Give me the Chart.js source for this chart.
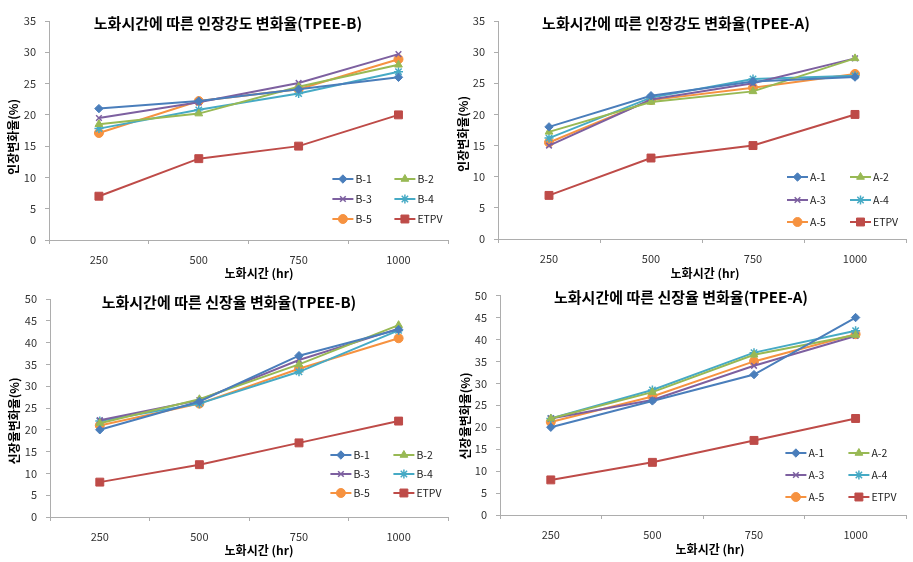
<!DOCTYPE html>
<html>
<head>
<meta charset="utf-8">
<script src="https://cdn.jsdelivr.net/npm/chart.js@4/dist/chart.umd.min.js"></script>
<style>
    body { margin: 0; background: #fff; }
    #wrap { position: relative; width: 913px; height: 562px; overflow: hidden; }
    canvas { position: absolute; }
</style>
</head>
<body>
<div id="wrap">
    <canvas id="c1" width="455" height="280" style="left:0;top:0"></canvas>
    <canvas id="c2" width="458" height="280" style="left:455px;top:0"></canvas>
    <canvas id="c3" width="455" height="282" style="left:0;top:280px"></canvas>
    <canvas id="c4" width="458" height="282" style="left:455px;top:280px"></canvas>
</div>
<script>
// 노화시간 (hr)
const hours = ["250", "500", "750", "1000"];

// 인장강도 변화율 (TPEE-B)
const tensileB1 = [21, 22.2, 24.1, 26];
const tensileB2 = [18.5, 20.2, 24.5, 28];
const tensileB3 = [19.5, 22, 25.1, 29.7];
const tensileB4 = [17.8, 20.8, 23.4, 26.9];
const tensileB5 = [17.1, 22.2, 24.1, 28.9];

// 인장강도 변화율 (TPEE-A)
const tensileA1 = [18, 23, 25.3, 26];
const tensileA2 = [17.2, 22, 23.7, 29];
const tensileA3 = [15, 22.4, 25, 29];
const tensileA4 = [16.2, 22.7, 25.7, 26.2];
const tensileA5 = [15.5, 22.3, 24.3, 26.5];

const tensileETPV = [7, 13, 15, 20];

// 신장율 변화율 (TPEE-B)
const elongB1 = [20, 26.5, 37, 43];
const elongB2 = [21.5, 27, 35, 44];
const elongB3 = [22.2, 26.8, 36, 43.2];
const elongB4 = [22, 26, 33.3, 42.8];
const elongB5 = [21, 26, 34, 41];

// 신장율 변화율 (TPEE-A)
const elongA1 = [20, 26, 32, 45];
const elongA2 = [22, 28, 36.5, 41];
const elongA3 = [22, 26.2, 34, 40.8];
const elongA4 = [22, 28.5, 37, 42];
const elongA5 = [21.2, 27, 35, 41.2];

const elongETPV = [8, 12, 17, 22];

const tensileTicks = { max: 35, step: 5 };
const elongTicks = { max: 50, step: 5 };

const FONT = "'Noto Sans CJK KR', 'Noto Sans', sans-serif";

const seriesStyle = [
    { color: "#4A7EBB", point: "rectRot", radius: 4.2 },
    { color: "#98B954", point: "triangle", radius: 4.5 },
    { color: "#7D60A0", point: "crossRot", radius: 4 },
    { color: "#46AAC5", point: "star", radius: 4.5 },
    { color: "#F69240", point: "circle", radius: 4.5 },
    { color: "#BE4B48", point: "rect", radius: 5.6 }
];

function makeDatasets(labels, values) {
    return values.map((v, i) => {
        const s = seriesStyle[i];
        return {
            label: labels[i],
            data: v,
            borderColor: s.color,
            backgroundColor: s.color,
            borderWidth: 2,
            pointStyle: s.point,
            pointRadius: s.radius,
            pointBackgroundColor: s.color,
            pointBorderColor: s.color,
            pointBorderWidth: (s.point === "crossRot" || s.point === "star") ? 1.5 : 1,
            tension: 0
        };
    });
}

// titles, axis titles and legend drawn on the canvas
const panelDeco = {
    id: "panelDeco",
    afterDraw(chart, args, o) {
        const ctx = chart.ctx;
        ctx.save();
        ctx.fillStyle = "#000";
        ctx.textAlign = "center";
        ctx.textBaseline = "middle";

        ctx.font = "bold 15px " + FONT;
        ctx.fillText(o.title, o.titleX, o.titleY);

        ctx.font = "bold 12px " + FONT;
        ctx.fillText("노화시간 (hr)", o.xTitleX, o.xTitleY);

        ctx.save();
        ctx.translate(o.yTitleX, o.yTitleY);
        ctx.rotate(-Math.PI / 2);
        ctx.fillText(o.yTitle, 0, 0);
        ctx.restore();

        // legend: 2 columns x 3 rows
        const area = chart.chartArea;
        ctx.font = "10.5px " + FONT;
        ctx.textAlign = "left";
        chart.data.datasets.forEach((ds, i) => {
            const x = area.right + o.legendCols[i % 2];
            const y = area.bottom + o.legendRows[Math.floor(i / 2)];
            ctx.strokeStyle = ds.borderColor;
            ctx.lineWidth = 2;
            ctx.beginPath();
            ctx.moveTo(x, y);
            ctx.lineTo(x + 21, y);
            ctx.stroke();
            ctx.fillStyle = ds.pointBackgroundColor;
            ctx.lineWidth = ds.pointBorderWidth;
            Chart.helpers.drawPoint(ctx, {
                pointStyle: ds.pointStyle,
                radius: ds.pointRadius,
                rotation: 0,
                borderWidth: ds.pointBorderWidth
            }, x + 10.5, y);
            ctx.fillStyle = "#222";
            ctx.fillText(ds.label, x + 23, y + 0.5);
        });
        ctx.restore();
    }
};

function makeChart(id, p) {
    const canvas = document.getElementById(id);
    return new Chart(canvas, {
        type: "line",
        data: {
            labels: hours,
            datasets: makeDatasets(p.names, p.values)
        },
        plugins: [panelDeco],
        options: {
            responsive: false,
            animation: false,
            layout: { padding: { top: p.top, right: canvas.width - p.right, left: 0, bottom: 0 } },
            scales: {
                x: {
                    offset: true,
                    afterFit: s => { s.height = canvas.height - p.bottom; },
                    border: { color: "#ADADAD", width: 1 },
                    grid: { offset: true, drawOnChartArea: false, drawTicks: true, tickLength: 4, color: "#ADADAD" },
                    ticks: { padding: 9, color: "#333", font: { family: FONT, size: 11 }, maxRotation: 0 }
                },
                y: {
                    min: 0,
                    max: p.ticks.max,
                    afterFit: s => { s.width = p.left; },
                    border: { color: "#ADADAD", width: 1 },
                    grid: { drawOnChartArea: false, drawTicks: true, tickLength: 4, color: "#ADADAD" },
                    ticks: { stepSize: p.ticks.step, padding: 9, color: "#333", font: { family: FONT, size: 11 } }
                }
            },
            plugins: {
                legend: { display: false },
                title: { display: false },
                tooltip: { enabled: false },
                panelDeco: p.deco
            }
        }
    });
}

makeChart("c1", {
    names: ["B-1", "B-2", "B-3", "B-4", "B-5", "ETPV"],
    values: [tensileB1, tensileB2, tensileB3, tensileB4, tensileB5, tensileETPV],
    ticks: tensileTicks,
    left: 49, top: 21, right: 456, bottom: 240,
    deco: {
        title: "노화시간에 따른 인장강도 변화율(TPEE-B)", titleX: 228, titleY: 23,
        xTitleX: 259, xTitleY: 273,
        yTitle: "인장변화율(%)", yTitleX: 13, yTitleY: 137,
        legendCols: [-116, -54], legendRows: [-61, -41, -21]
    }
});

makeChart("c2", {
    names: ["A-1", "A-2", "A-3", "A-4", "A-5", "ETPV"],
    values: [tensileA1, tensileA2, tensileA3, tensileA4, tensileA5, tensileETPV],
    ticks: tensileTicks,
    left: 43, top: 21, right: 451, bottom: 239,
    deco: {
        title: "노화시간에 따른 인장강도 변화율(TPEE-A)", titleX: 221, titleY: 23,
        xTitleX: 250, xTitleY: 273,
        yTitle: "인장변화율(%)", yTitleX: 8, yTitleY: 134,
        legendCols: [-119, -56], legendRows: [-62, -39, -17]
    }
});

makeChart("c3", {
    names: ["B-1", "B-2", "B-3", "B-4", "B-5", "ETPV"],
    values: [elongB1, elongB2, elongB3, elongB4, elongB5, elongETPV],
    ticks: elongTicks,
    left: 50, top: 19, right: 456, bottom: 237,
    deco: {
        title: "노화시간에 따른 신장율 변화율(TPEE-B)", titleX: 229, titleY: 22,
        xTitleX: 259, xTitleY: 270,
        yTitle: "신장율변화율(%)", yTitleX: 14, yTitleY: 141,
        legendCols: [-118, -55], legendRows: [-62, -43, -24]
    }
});

makeChart("c4", {
    names: ["A-1", "A-2", "A-3", "A-4", "A-5", "ETPV"],
    values: [elongA1, elongA2, elongA3, elongA4, elongA5, elongETPV],
    ticks: elongTicks,
    left: 45, top: 14, right: 458, bottom: 235,
    deco: {
        title: "노화시간에 따른 신장율 변화율(TPEE-A)", titleX: 226, titleY: 17,
        xTitleX: 255, xTitleY: 269,
        yTitle: "신장율변화율(%)", yTitleX: 10, yTitleY: 136,
        legendCols: [-121, -58], legendRows: [-62, -40, -18]
    }
});
</script>
</body>
</html>
